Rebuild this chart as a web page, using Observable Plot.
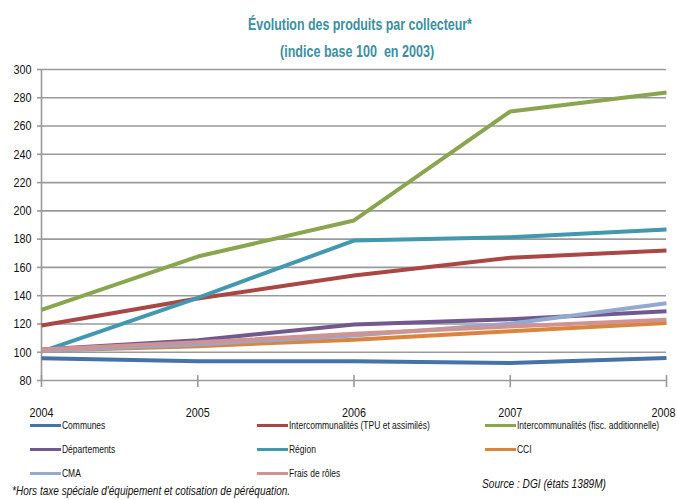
<!DOCTYPE html>
<html>
<head>
<meta charset="utf-8">
<script src="https://cdn.jsdelivr.net/npm/d3@7"></script>
<script src="https://cdn.jsdelivr.net/npm/@observablehq/plot@0.6"></script>
<style>
  html, body { margin: 0; padding: 0; background: #fff; }
  body { width: 677px; height: 500px; position: relative; overflow: hidden;
         font-family: "Liberation Sans", Arial, sans-serif; }
  .abs { position: absolute; white-space: nowrap; }
  .sq { display: inline-block; transform-origin: 0 50%; }
  .title { color: #3A8FA3; font-weight: bold; font-size: 16px; }
  #chart { position: absolute; left: 0; top: 55px; }
  .leg { font-size: 11px; color: #111; line-height: 14px; }
  .leg .sw { display: inline-block; width: 31px; height: 3px; vertical-align: middle; position: relative; top: -1px; }
  .note { font-style: italic; font-size: 13px; color: #111; }
</style>
</head>
<body>
<div class="abs title" style="left:248px; top:16px"><span class="sq" data-w="224">Évolution des produits par collecteur*</span></div>
<div class="abs title" style="left:280px; top:43px"><span class="sq" data-w="154">(indice base 100&nbsp; en 2003)</span></div>
<div id="chart"></div>
<div id="legend"></div>
<div class="abs note" style="left:12px; top:483px"><span class="sq" data-w="278">*Hors taxe spéciale d'équipement et cotisation de péréquation.</span></div>
<div class="abs note" style="left:482px; top:476px"><span class="sq" data-w="124">Source : DGI (états 1389M)</span></div>
<script>
const years = [2004, 2005, 2006, 2007, 2008];
const seriesNames = [
  "Communes",
  "Intercommunalités (TPU et assimilés)",
  "Intercommunalités (fisc. additionnelle)",
  "Départements",
  "Région",
  "CCI",
  "CMA",
  "Frais de rôles"
];
const communes      = [95.8, 93.7, 93.7, 92.3, 96.0];
const intercoTPU    = [118.9, 138.0, 154.3, 166.8, 172.0];
const intercoFisc   = [130.0, 167.7, 193.2, 270.3, 283.7];
const departements  = [102.0, 108.5, 119.6, 123.4, 129.0];
const region        = [100.5, 138.5, 179.0, 181.4, 186.8];
const cci           = [101.0, 104.3, 108.8, 114.9, 120.6];
const cma           = [101.0, 105.5, 111.9, 120.1, 134.7];
const fraisRoles    = [102.0, 107.0, 113.0, 118.2, 122.9];
const yTicks = [80, 100, 120, 140, 160, 180, 200, 220, 240, 260, 280, 300];
const colors = ["#4572A7", "#AA4643", "#89A54E", "#71588F", "#4198AF", "#DB843D", "#93A9CF", "#D19392"];

const allValues = [communes, intercoTPU, intercoFisc, departements, region, cci, cma, fraisRoles];
const data = [];
seriesNames.forEach((name, i) => {
  years.forEach((y, j) => data.push({series: name, year: y, value: allValues[i][j]}));
});

const gridColor = "#9a9a9a";
const chart = Plot.plot({
  width: 677,
  height: 365,
  marginLeft: 41,
  marginRight: 11,
  marginTop: 14,
  marginBottom: 40,
  style: {fontFamily: '"Liberation Sans", Arial, sans-serif', fontSize: "13.5px", color: "#111", background: "transparent", overflow: "visible"},
  x: {domain: [2004, 2008], ticks: years, tickFormat: d3.format("d")},
  y: {domain: [80, 300], ticks: yTicks},
  color: {domain: seriesNames, range: colors},
  marks: [
    Plot.gridY(yTicks.filter(d => d > 80), {stroke: gridColor, strokeOpacity: 1, strokeWidth: 1.6}),
    Plot.axisY({ticks: yTicks, tickSize: 4, tickPadding: 6, label: null, stroke: gridColor, strokeWidth: 1.6, fontSize: 13.5}),
    Plot.axisX({ticks: years, tickSize: 7, tickPadding: 20, label: null, tickFormat: d3.format("d"), stroke: gridColor, strokeWidth: 1.6, fontSize: 13.5}),
    Plot.ruleX([2004], {stroke: gridColor, strokeWidth: 1.6}),
    Plot.ruleY([80], {stroke: gridColor, strokeWidth: 1.6}),
    Plot.ruleX(years, {y1: 80, y2: 83.5, stroke: gridColor, strokeWidth: 1.6}),
    Plot.line(data, {x: "year", y: "value", z: "series", stroke: "series", strokeWidth: 4, strokeLinejoin: "round", strokeLinecap: "butt"})
  ]
});
document.getElementById("chart").appendChild(chart);

// condense axis tick labels (narrow font look)
chart.querySelectorAll("g[aria-label='y-axis tick label'] text, g[aria-label='x-axis tick label'] text").forEach(t => {
  const w = t.getComputedTextLength();
  t.setAttribute("textLength", (w * 0.8).toFixed(1));
  t.setAttribute("lengthAdjust", "spacingAndGlyphs");
});
// keep the last year label inside the frame
const xLabels = chart.querySelectorAll("g[aria-label='x-axis tick label'] text");
if (xLabels.length) {
  const last = xLabels[xLabels.length - 1];
  last.setAttribute("text-anchor", "end");
  last.setAttribute("dx", "9");
}

// legend (3 columns)
const legend = document.getElementById("legend");
const colX = [30, 257, 485];
const rowY = [425, 449, 473];
seriesNames.forEach((name, i) => {
  const col = i % 3, row = Math.floor(i / 3);
  const el = document.createElement("div");
  el.className = "abs leg";
  el.style.left = colX[col] + "px";
  el.style.top = (rowY[row] - 7) + "px";
  const sw = document.createElement("span");
  sw.className = "sw";
  sw.style.background = colors[i];
  el.appendChild(sw);
  const tx = document.createElement("span");
  tx.className = "sq";
  tx.style.transform = "scaleX(0.77)";
  tx.style.marginLeft = "1px";
  tx.textContent = name;
  el.appendChild(tx);
  legend.appendChild(el);
});

// fit condensed HTML texts to their widths
document.querySelectorAll(".sq[data-w]").forEach(s => {
  const w = s.getBoundingClientRect().width;
  s.style.transform = `scaleX(${(+s.dataset.w / w).toFixed(3)})`;
});
</script>
</body>
</html>
